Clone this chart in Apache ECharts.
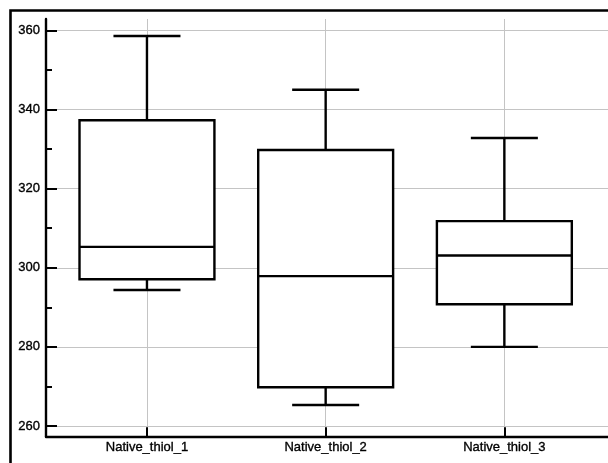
<!DOCTYPE html>
<html>
<head>
<meta charset="utf-8">
<title>Native thiol box plot</title>
<script src="https://cdn.jsdelivr.net/npm/echarts@6/dist/echarts.min.js"></script>
<style>
  html, body { margin: 0; padding: 0; background: #fff; }
  #chart { width: 608px; height: 463px; }
</style>
</head>
<body>
<div id="chart"></div>
<script>
// Box plot statistics per sample
const categories = ['Native_thiol_1', 'Native_thiol_2', 'Native_thiol_3'];
const whiskerLow = [294.4, 265.3, 280.0];
const quartile1 = [297.1, 269.8, 290.8];
const medians = [305.3, 297.9, 303.1];
const quartile3 = [337.3, 329.8, 311.8];
const whiskerHigh = [358.6, 345.0, 332.8];

// Axis ticks
const yMajorTicks = [260, 280, 300, 320, 340, 360];
const yMinorTicks = [270, 290, 310, 330, 350];
const xPositions = [1, 2, 3];

const FONT = '"Liberation Sans", Arial, sans-serif';
const GRID_COLOR = '#c4c4c4';
const LABEL_STYLE = {
  color: '#000', fontFamily: FONT, fontSize: 13,
  textBorderColor: '#000', textBorderWidth: 0.35
};

const boxData = categories.map((c, i) => [
  xPositions[i], whiskerLow[i], quartile1[i], medians[i], quartile3[i], whiskerHigh[i]
]);

function renderBox(params, api) {
  const x = api.value(0);
  const pLow = api.coord([x, api.value(1)]);
  const pQ1 = api.coord([x, api.value(2)]);
  const pMed = api.coord([x, api.value(3)]);
  const pQ3 = api.coord([x, api.value(4)]);
  const pHigh = api.coord([x, api.value(5)]);
  const boxW = api.size([0.755, 0])[0];
  const capW = api.size([0.375, 0])[0];
  const cx = pMed[0];
  const line = { stroke: '#000', lineWidth: 2.4, fill: null };
  return {
    type: 'group',
    children: [
      { type: 'line', shape: { x1: cx, y1: pHigh[1], x2: cx, y2: pQ3[1] }, style: line },
      { type: 'line', shape: { x1: cx, y1: pQ1[1], x2: cx, y2: pLow[1] }, style: line },
      { type: 'line', shape: { x1: cx - capW / 2, y1: pHigh[1], x2: cx + capW / 2, y2: pHigh[1] }, style: line },
      { type: 'line', shape: { x1: cx - capW / 2, y1: pLow[1], x2: cx + capW / 2, y2: pLow[1] }, style: line },
      {
        type: 'rect',
        shape: { x: cx - boxW / 2, y: pQ3[1], width: boxW, height: pQ1[1] - pQ3[1] },
        style: { fill: '#fff', stroke: '#000', lineWidth: 2.4 }
      },
      { type: 'line', shape: { x1: cx - boxW / 2, y1: pMed[1], x2: cx + boxW / 2, y2: pMed[1] }, style: line }
    ]
  };
}

const chart = echarts.init(document.getElementById('chart'), null, { renderer: 'canvas' });

chart.setOption({
  animation: false,
  backgroundColor: '#fff',
  graphic: [{
    type: 'rect',
    shape: { x: 10.5, y: 10.5, width: 800, height: 800 },
    style: { fill: null, stroke: '#000', lineWidth: 2.6 },
    z: 10,
    silent: true
  }],
  grid: { left: 46, right: 0, top: 19, bottom: 26.7, containLabel: false },
  xAxis: {
    type: 'value',
    min: 0.435,
    max: 3.58,
    axisLine: { show: true, onZero: false, lineStyle: { color: '#000', width: 2.4 } },
    axisTick: {
      show: true, inside: true, length: 9, customValues: xPositions,
      lineStyle: { color: '#000', width: 2 }
    },
    axisLabel: Object.assign({
      show: true, margin: 5, customValues: xPositions,
      formatter: v => categories[Math.round(v) - 1] || ''
    }, LABEL_STYLE),
    splitLine: { show: false }
  },
  yAxis: [{
    type: 'value',
    min: 257.4,
    max: 362.9,
    axisLine: { show: true, onZero: false, lineStyle: { color: '#000', width: 2.4 } },
    axisTick: {
      show: true, inside: true, length: 11, customValues: yMajorTicks,
      lineStyle: { color: '#000', width: 2 }
    },
    axisLabel: Object.assign({
      show: true, margin: 6, customValues: yMajorTicks
    }, LABEL_STYLE),
    splitLine: { show: false }
  }, {
    type: 'value',
    position: 'left',
    min: 257.4,
    max: 362.9,
    axisLine: { show: false },
    axisTick: {
      show: true, inside: true, length: 6, customValues: yMinorTicks,
      lineStyle: { color: '#000', width: 2 }
    },
    axisLabel: { show: false },
    splitLine: { show: false }
  }],
  series: [{
    // grid lines, kept behind the boxes
    type: 'scatter',
    data: [],
    z: 0,
    silent: true,
    markLine: {
      z: 0,
      silent: true,
      symbol: ['none', 'none'],
      label: { show: false },
      lineStyle: { color: GRID_COLOR, width: 1, type: 'solid' },
      data: yMajorTicks.map(v => ({ yAxis: v }))
        .concat(xPositions.map(v => ({ xAxis: v })))
    }
  }, {
    type: 'custom',
    z: 5,
    renderItem: renderBox,
    encode: { x: 0, y: [1, 2, 3, 4, 5] },
    data: boxData
  }]
});
</script>
</body>
</html>
